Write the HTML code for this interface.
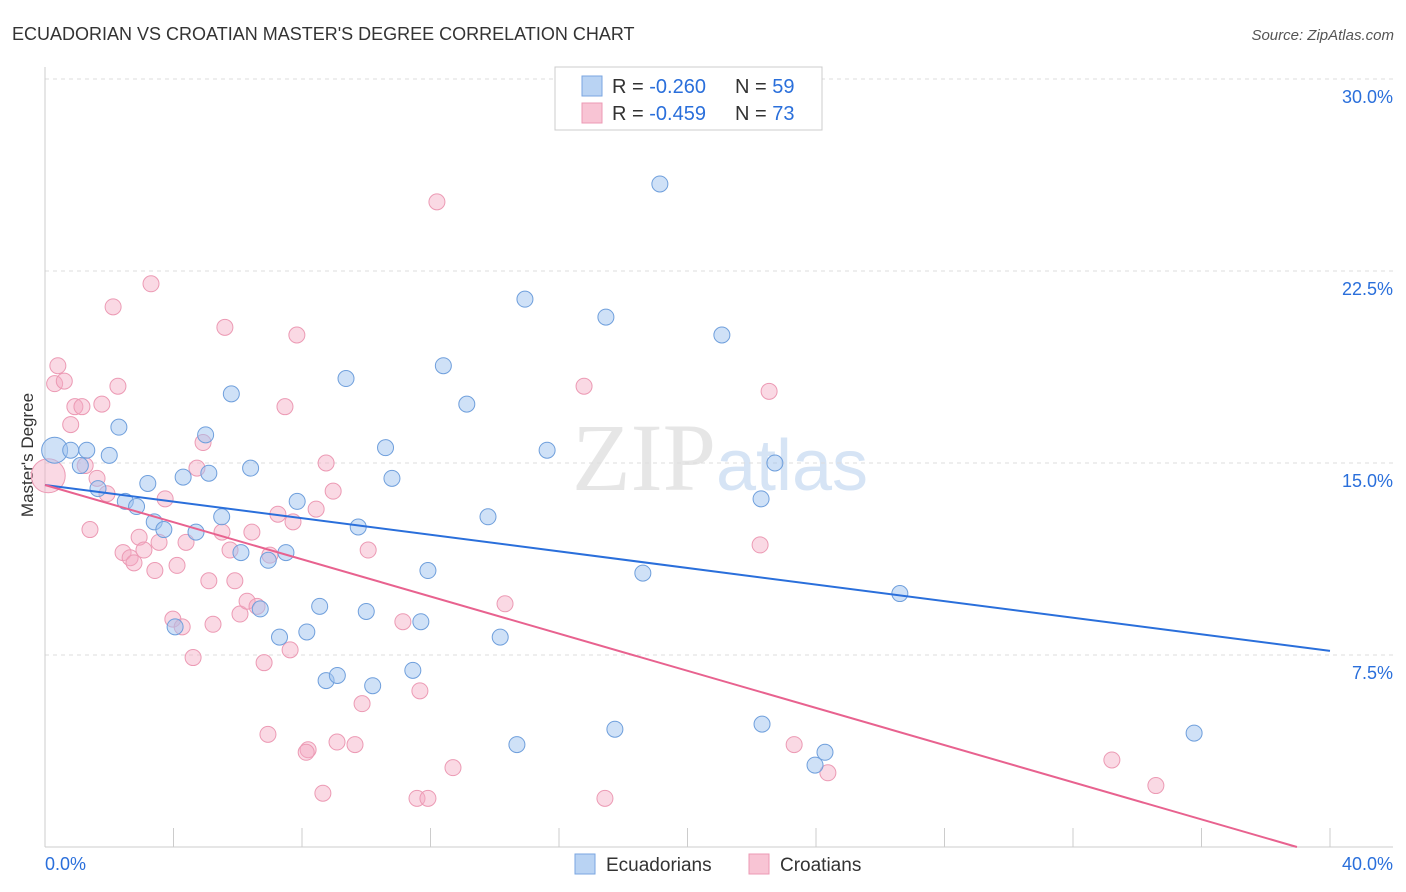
<!DOCTYPE html>
<html><head><meta charset="utf-8"><style>
body{margin:0;background:#fff;font-family:"Liberation Sans",sans-serif}
svg{display:block}
</style></head><body>
<svg id="c" width="1406" height="892">
<text x="12" y="40" font-size="18" fill="#333">ECUADORIAN VS CROATIAN MASTER'S DEGREE CORRELATION CHART</text>
<text x="1394" y="40" font-size="15" fill="#555" font-style="italic" text-anchor="end">Source: ZipAtlas.com</text>
<text x="720" y="490" font-size="96" fill="#e6e6e6" text-anchor="middle" font-family="Liberation Serif">ZIP<tspan fill="#d6e4f5" font-family="Liberation Sans" font-size="72">atlas</tspan></text>
<text transform="translate(33,455) rotate(-90)" font-size="17" fill="#333" text-anchor="middle">Master's Degree</text>
<g id="grid"></g><g id="pts"></g><g id="lines"></g>
<g>
<rect x="555" y="67" width="267" height="63" fill="#fff" stroke="#ccc"/>
<rect x="582" y="76" width="20" height="20" fill="#b9d3f3" stroke="#7aa6e0"/>
<rect x="582" y="103" width="20" height="20" fill="#f8c4d4" stroke="#ec9ab4"/>
<text x="612" y="93" font-size="20" fill="#333">R = <tspan fill="#2a6fdb">-0.260</tspan></text>
<text x="735" y="93" font-size="20" fill="#333">N = <tspan fill="#2a6fdb">59</tspan></text>
<text x="612" y="120" font-size="20" fill="#333">R = <tspan fill="#2a6fdb">-0.459</tspan></text>
<text x="735" y="120" font-size="20" fill="#333">N = <tspan fill="#2a6fdb">73</tspan></text>
</g>
<g>
<rect x="575" y="854" width="20" height="20" fill="#b9d3f3" stroke="#7aa6e0"/>
<text x="606" y="871" font-size="19" fill="#333">Ecuadorians</text>
<rect x="749" y="854" width="20" height="20" fill="#f8c4d4" stroke="#ec9ab4"/>
<text x="780" y="871" font-size="19" fill="#333">Croatians</text>
</g>
<text x="45" y="870" font-size="18" fill="#2a6fdb">0.0%</text>
<text x="1393" y="870" font-size="18" fill="#2a6fdb" text-anchor="end">40.0%</text>
</svg>
<script>
const yTicks=[30,22.5,15,7.5];
const blueX=[0.3,0.8,1.3,1.1,2.0,2.3,1.65,2.5,2.85,3.2,3.4,3.7,4.3,4.7,5.0,5.1,5.5,5.8,6.1,6.4,6.95,7.5,7.3,6.7,7.85,8.15,8.55,8.75,9.1,9.37,9.75,10.0,10.2,10.6,10.8,11.45,11.7,11.92,12.4,13.13,13.79,14.17,14.69,14.94,15.63,17.46,17.74,18.61,19.14,21.07,22.32,22.29,22.72,23.97,24.28,26.61,35.77,4.05];
const blueY=[15.5,15.5,15.5,14.9,15.3,16.4,14.0,13.5,13.3,14.2,12.7,12.4,14.45,12.3,16.1,14.6,12.9,17.7,11.5,14.8,11.2,11.5,8.2,9.3,13.5,8.4,9.4,6.5,6.7,18.3,12.5,9.2,6.3,15.6,14.4,6.9,8.8,10.8,18.8,17.3,12.9,8.2,4.0,21.4,15.5,20.7,4.6,10.7,25.9,20.0,4.8,13.6,15.0,3.2,3.7,9.9,4.45,8.6];
const pinkX=[0.1,0.4,0.3,0.6,0.8,0.93,1.15,1.25,1.4,1.62,1.93,2.12,2.27,1.77,2.43,2.65,2.77,2.93,3.08,3.3,3.42,3.55,3.74,3.98,4.11,4.27,4.39,4.61,4.92,5.1,5.23,4.73,5.51,5.6,5.76,5.91,6.07,6.29,6.44,6.6,6.82,6.94,7.0,7.25,7.47,7.63,7.72,7.84,8.19,8.13,8.44,8.65,8.75,8.97,9.09,9.65,9.87,10.06,11.14,11.67,11.58,11.92,12.2,12.7,14.32,16.78,17.43,22.26,22.54,23.32,24.37,33.21,34.58];
const pinkY=[14.5,18.8,18.1,18.2,16.5,17.2,17.2,14.9,12.4,14.4,13.8,21.1,18.0,17.3,11.5,11.3,11.1,12.1,11.6,22.0,10.8,11.9,13.6,8.9,11.0,8.6,11.9,7.4,15.8,10.4,8.7,14.8,12.3,20.3,11.6,10.4,9.1,9.6,12.3,9.4,7.2,4.4,11.4,13.0,17.2,7.7,12.7,20.0,3.8,3.7,13.2,2.1,15.0,13.9,4.1,4.0,5.6,11.6,8.8,6.1,1.9,1.9,25.2,3.1,9.5,18.0,1.9,11.8,17.8,4.0,2.9,3.4,2.4];
const sx=v=>45+v*32.125, sy=v=>847-v*25.6;
const NS='http://www.w3.org/2000/svg';
function mk(t,a,p){const e=document.createElementNS(NS,t);for(const k in a)e.setAttribute(k,a[k]);p.appendChild(e);return e;}
const grid=document.getElementById('grid');
yTicks.forEach(t=>{
 const l=mk('line',{x1:45,x2:1393,y1:sy(t),y2:sy(t),stroke:'#ddd','stroke-dasharray':'4,4'},grid);
 
 
 const tx=mk('text',{x:1393,y:sy(t)+24,'font-size':18,fill:'#2a6fdb','text-anchor':'end'},grid);
 tx.textContent=t.toFixed(1)+'%';
 
 
});
mk('line',{x1:45,x2:45,y1:67,y2:847,stroke:'#ccc'},grid);
mk('line',{x1:45,x2:1393,y1:847,y2:847,stroke:'#ccc'},grid);
for(let i=0;i<=10;i++){const l=mk('line',{x1:sx(i*4),x2:sx(i*4),y1:828,y2:847,stroke:'#ccc'},grid);
 
 }
const pts=document.getElementById('pts');
pinkX.forEach((x,i)=>{const c=mk('circle',{cx:sx(x),cy:sy(pinkY[i]),r:i==0?17:8,fill:'rgba(245,170,195,0.45)',stroke:'#ec9ab4','stroke-width':1},pts);
 
 });
blueX.forEach((x,i)=>{const c=mk('circle',{cx:sx(x),cy:sy(blueY[i]),r:i==0?13:8,fill:'rgba(160,195,240,0.5)',stroke:'#6f9fdc','stroke-width':1},pts);
 
 });
const lines=document.getElementById('lines');
const bl=mk('line',{x1:sx(0),y1:sy(14.14),x2:sx(40),y2:sy(7.66),stroke:'#2a6fdb','stroke-width':2},lines);


const pl=mk('line',{x1:sx(0),y1:sy(14.14),x2:sx(38.97),y2:sy(0),stroke:'#e8628f','stroke-width':2},lines);


</script>
</body></html>
